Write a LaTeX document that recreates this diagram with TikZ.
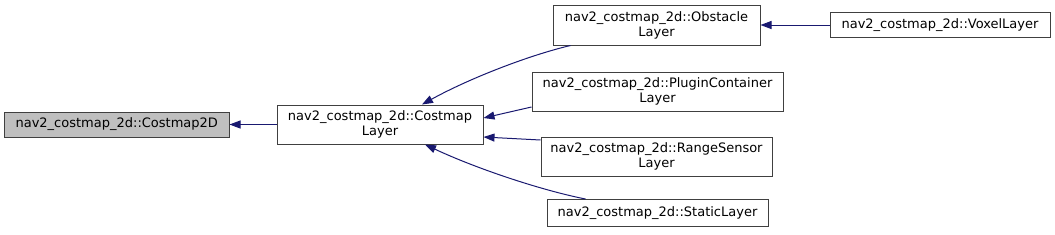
\documentclass[tikz,border=0pt]{standalone}
\usepackage{fontspec}
\setmainfont{DejaVu Sans}
\usetikzlibrary{arrows.meta}
\definecolor{edgeblue}{HTML}{191970}
\definecolor{boxgray}{HTML}{BFBFBF}
\definecolor{boxline}{HTML}{404040}
\begin{document}
\begin{tikzpicture}[x=1pt,y=-1pt,
  box/.style={draw=boxline, line width=1pt, fill=white, inner sep=0pt, align=center,
    font=\fontsize{13}{15}\selectfont},
  conn/.style={draw=edgeblue, line width=1pt, -{Triangle[length=11pt,width=8pt]}}]
\useasboundingbox (0,0) rectangle (1055,234);
\node[box, fill=boxgray, minimum width=224.5pt, minimum height=25pt] (A) at (116.75,124.5) {nav2\_costmap\_2d::Costmap2D};
\node[box, minimum width=206pt, minimum height=39pt] (B) at (380,124.5) {nav2\_costmap\_2d::Costmap\\Layer};
\node[box, minimum width=207pt, minimum height=40pt] (C) at (656.5,25) {nav2\_costmap\_2d::Obstacle\\Layer};
\node[box, minimum width=251pt, minimum height=39pt] (D) at (657.5,91.5) {nav2\_costmap\_2d::PluginContainer\\Layer};
\node[box, minimum width=231pt, minimum height=39pt] (E) at (656.5,156.5) {nav2\_costmap\_2d::RangeSensor\\Layer};
\node[box, minimum width=221pt, minimum height=27pt] (F) at (657.5,213) {nav2\_costmap\_2d::StaticLayer};
\node[box, minimum width=220pt, minimum height=25pt] (G) at (940,25) {nav2\_costmap\_2d::VoxelLayer};
\draw[conn] (B.west) -- (A.east);
\draw[conn] (G.west) -- (C.east);
\draw[conn] ([xshift=-86pt]C.south) .. controls (530,55) and (470,78) .. ([xshift=42pt]B.north);
\draw[conn] ([yshift=-15.5pt]D.west) -- ([yshift=6.5pt]B.east);
\draw[conn] ([yshift=16.5pt]E.west) -- ([yshift=-12.5pt]B.east);
\draw[conn] ([xshift=-72pt]F.north) .. controls (540,190) and (475,168) .. ([xshift=45pt]B.south);
\end{tikzpicture}
\end{document}
